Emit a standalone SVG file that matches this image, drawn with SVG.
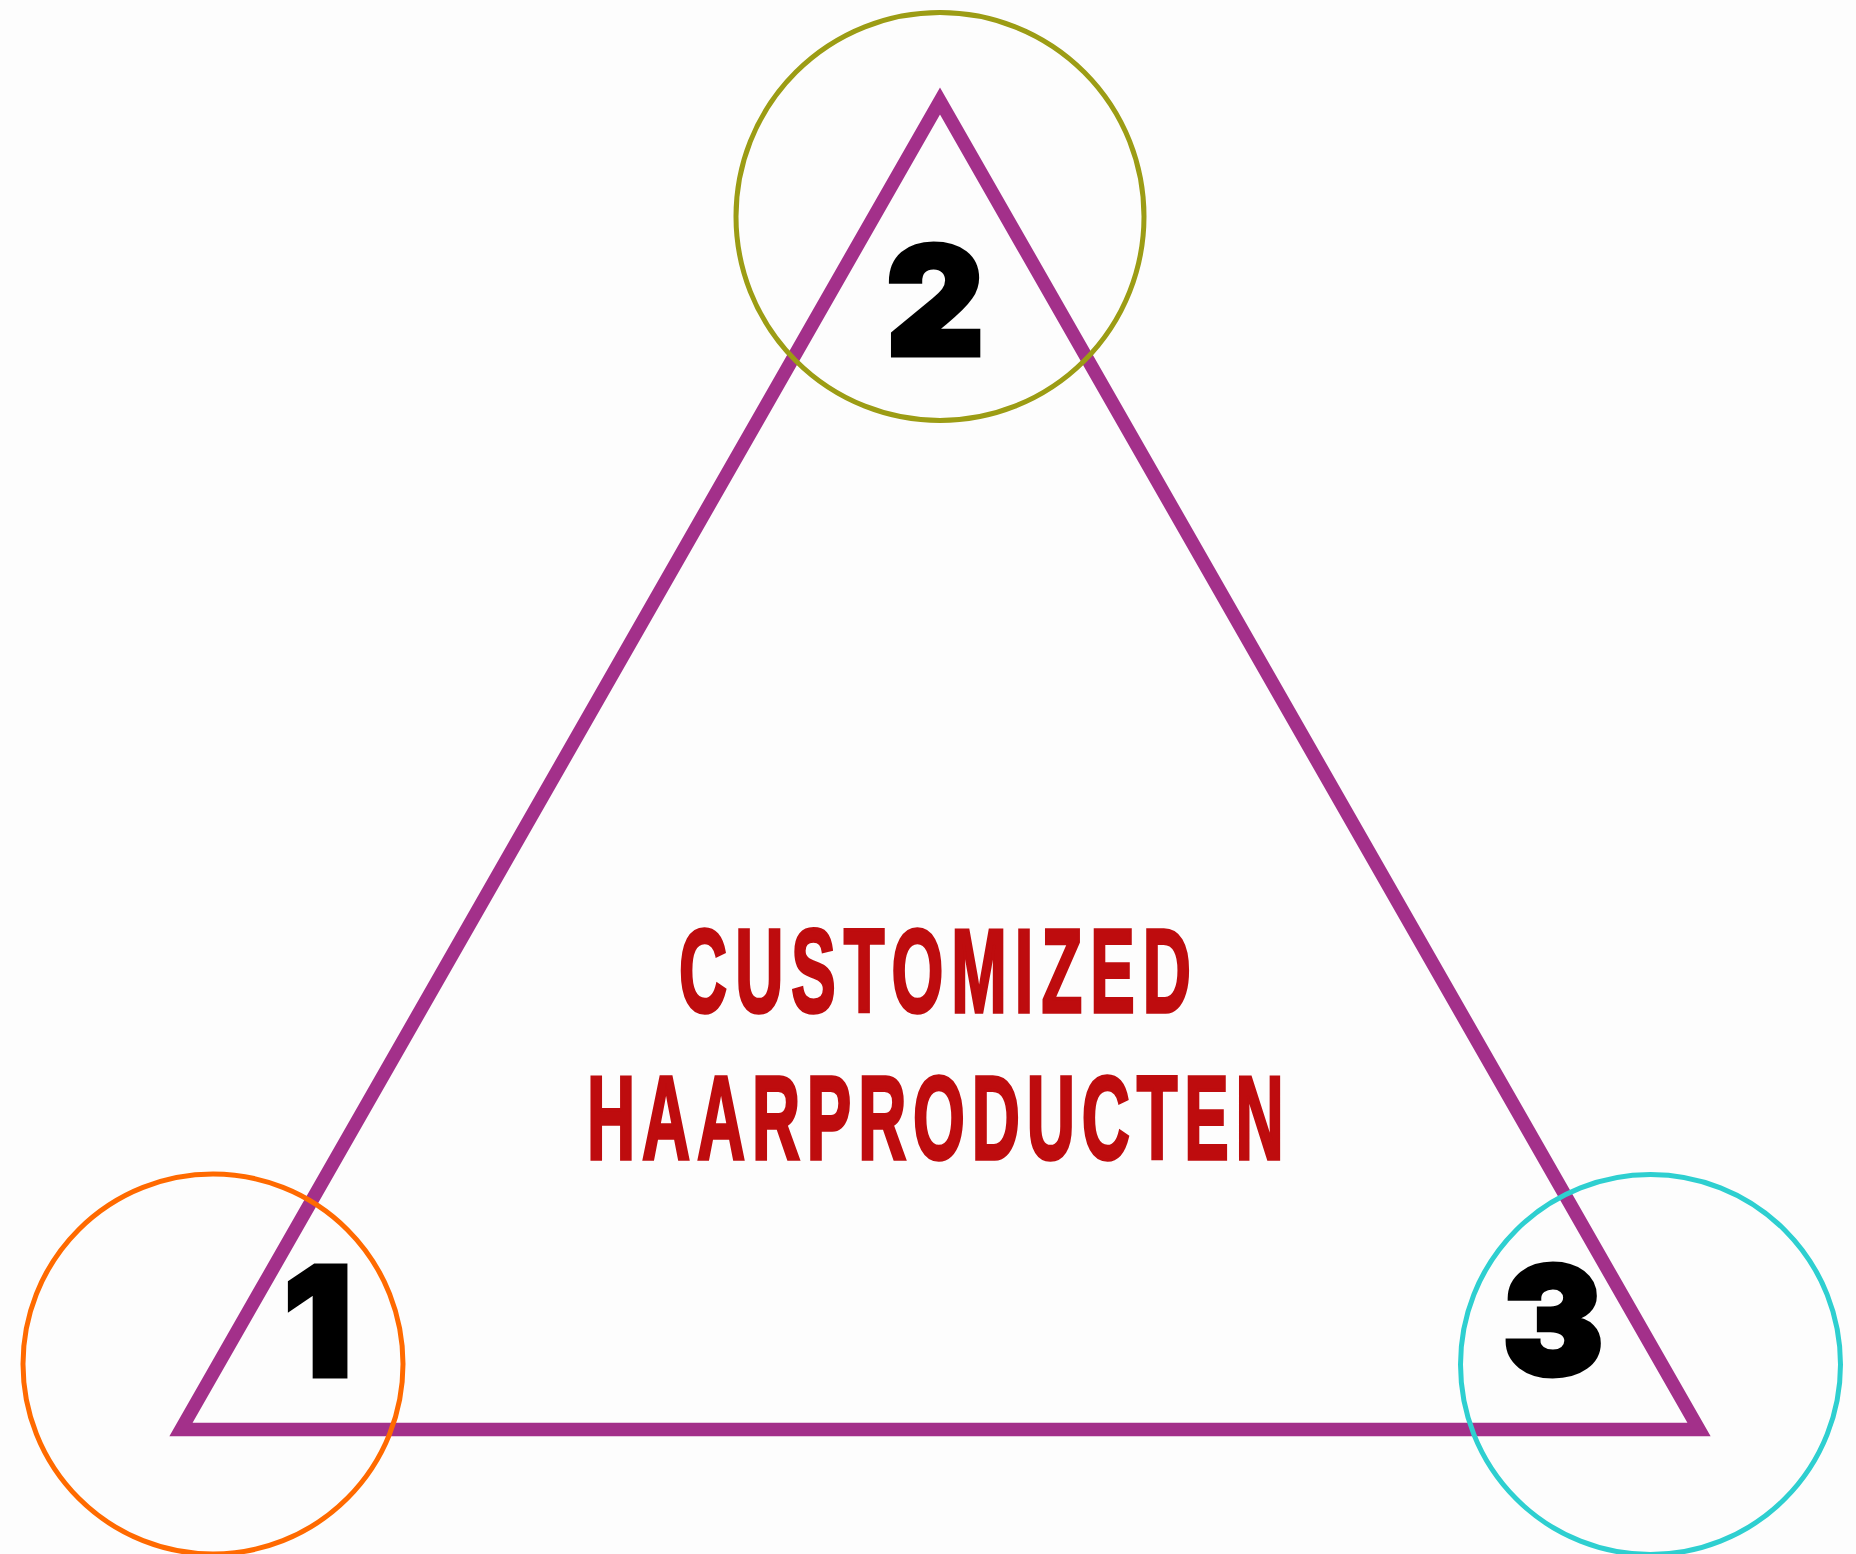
<svg xmlns="http://www.w3.org/2000/svg" width="1856" height="1554" viewBox="0 0 1856 1554">
  <style>
    .ring { fill: none; stroke-width: 5; }
    .num { font-family: Inter, Roboto, Lato, "DejaVu Sans", sans-serif; font-weight: 900; font-size: 151px; fill: #000; stroke: #000; stroke-width: 5; stroke-linejoin: miter; text-anchor: middle; }
    .title { font-family: "Liberation Sans", Arial, sans-serif; font-weight: bold; font-size: 119px; fill: #be0c0e; stroke: #be0c0e; stroke-width: 3.5; stroke-linejoin: miter; }
  </style>
  <rect width="1856" height="1554" fill="#fdfdfd"/>
  <g id="triangle">
    <polygon points="940,101 1699,1429.5 181,1429.5" fill="none" stroke="#a3308a" stroke-width="13.5" stroke-miterlimit="10"/>
  </g>
  <g id="title">
    <text class="title" transform="translate(679,1011.5) scale(0.56,1)" x="0" y="0" textLength="914" lengthAdjust="spacing">CUSTOMIZED</text>
    <text class="title" transform="translate(587,1158.5) scale(0.56,1)" x="0" y="0" textLength="1244" lengthAdjust="spacing">HAARPRODUCTEN</text>
  </g>
  <g id="node-1">
    <circle class="ring" cx="213" cy="1364" r="190" stroke="#ff6a00"/>
    <text class="num" x="318" y="1376">1</text>
  </g>
  <g id="node-2">
    <circle class="ring" cx="940" cy="216.5" r="204" stroke="#9c9c14"/>
    <text class="num" x="935" y="355">2</text>
  </g>
  <g id="node-3">
    <circle class="ring" cx="1650.5" cy="1364.5" r="190" stroke="#2ecfd0"/>
    <text class="num" x="1553" y="1375">3</text>
  </g>
</svg>
